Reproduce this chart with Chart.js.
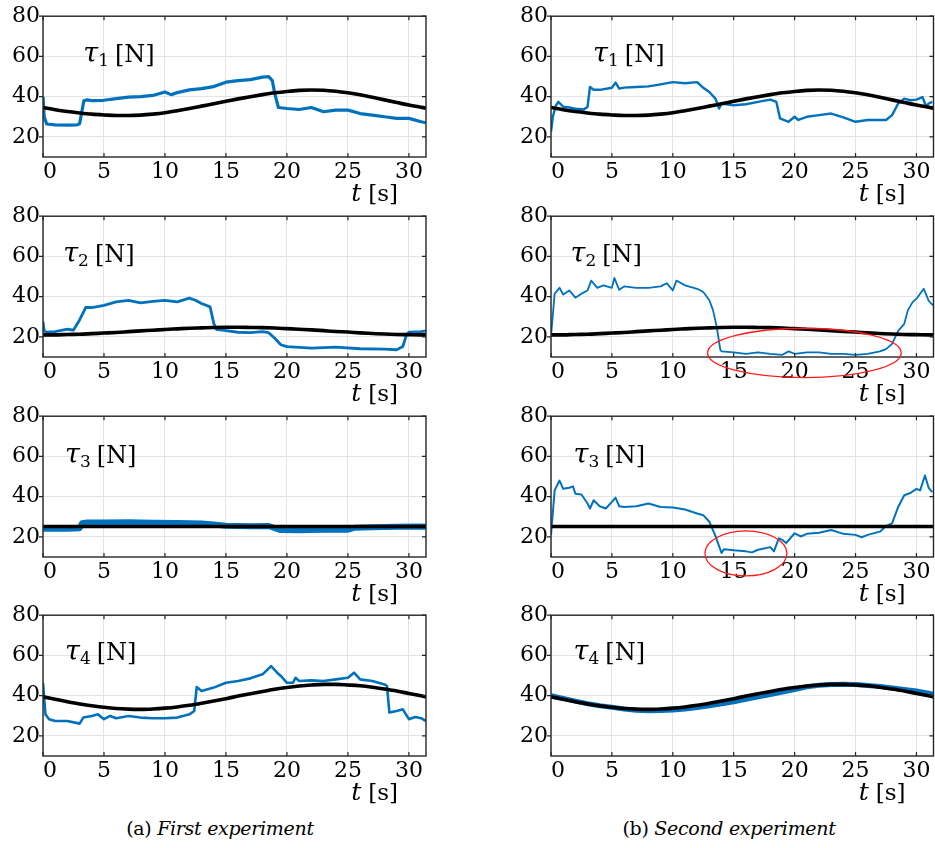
<!DOCTYPE html>
<html><head><meta charset="utf-8">
<script src="https://cdn.jsdelivr.net/npm/chart.js@4.4.1/dist/chart.umd.min.js"></script>
<style>
html,body{margin:0;padding:0;background:#fff;}
#wrap{position:relative;width:935px;height:848px;overflow:hidden;background:#fff;}
#wrap canvas{position:absolute;}
.cap{position:absolute;top:817px;font-family:'DejaVu Serif',serif;font-size:19px;color:#000;white-space:nowrap;transform:translateX(-50%);letter-spacing:-0.3px;}
.cap i{font-style:italic;}
</style></head><body>
<div id="wrap">
<div class="cap" style="left:220px">(a) <i>First experiment</i></div>
<div class="cap" style="left:729px">(b) <i>Second experiment</i></div>
</div>
<script>
// ---------- data ----------
const xTicks = [0,5,10,15,20,25,30];
const yTicks = [20,40,60,80];

// reference trajectories (black)
const tRef = [0,1,2,3,4,5,6,7,8,9,10,11,12,13,14,15,16,17,18,19,20,21,22,23,24,25,26,27,28,29,30,31,31.4];
const refTau1 = [34.6,33.5,32.6,31.9,31.3,30.9,30.6,30.6,30.8,31.3,32.0,33.0,34.1,35.3,36.5,37.7,38.9,40.0,41.0,41.9,42.6,43.1,43.3,43.2,42.7,41.9,40.9,39.7,38.4,37.1,35.8,34.7,34.3];
const refTau2 = [21.0,21.0,21.2,21.3,21.6,21.9,22.2,22.6,23.0,23.3,23.7,24.0,24.3,24.5,24.7,24.8,24.8,24.7,24.6,24.4,24.1,23.8,23.5,23.1,22.7,22.4,22.0,21.7,21.4,21.2,21.1,21.0,21.0];
const tRef3 = [0,31.4];
const refTau3 = [25.2,25.2];
const refTau4 = [39.4,38.2,37.0,35.9,35.0,34.2,33.6,33.3,33.2,33.4,33.8,34.4,35.2,36.2,37.3,38.5,39.8,41.0,42.1,43.2,44.1,44.8,45.3,45.6,45.6,45.3,44.9,44.2,43.3,42.3,41.1,39.9,39.4];

// measured tensions, first experiment (a)
const tA1 = [0,0.1,0.3,1,2,2.8,3.0,3.35,3.6,4,5,6,7,8,9,10,10.5,11,12,13,14,15,16,17,18,18.5,18.8,19.0,19.3,20,21,22,23,24,25,26,27,28,29,30,31,31.4];
const vA1 = [40,30,26.4,26,25.8,26,26.5,38,38.4,38,38.2,39,39.8,40,40.6,42.3,41,42,43.4,44,45,47.2,48,48.5,49.7,50,48,41.5,34.6,34.1,33.6,34.6,32.5,33.3,33.3,31.6,30.8,30,29.2,29.2,27.5,27];
const tA2 = [0,0.1,0.3,1,2,2.5,3,3.5,4,5,6,7,8,9,10,11,12,12.5,13,13.7,14,14.2,15,16,17,18,18.5,19,19.5,20,22,24,26,28,29,29.5,29.8,30,31,31.4];
const vA2 = [27.5,23,22.3,22.6,23.8,23.4,28.4,34.6,34.6,35.7,37.4,38.2,36.9,37.7,38.2,37.4,39.3,38.2,36.6,34.9,26.7,23.8,23.1,22.3,22.1,22.6,22.1,19.3,16.1,15.2,14.4,14.9,14.1,13.9,13.6,15.2,21,22.3,22.6,23];
const tA3 = [0,1,2,3,3.2,3.5,5,7,9,11,13,14,15,17,18.5,19,19.5,21,23,25,25.5,27,29,31,31.4];
const vA3 = [24,24.2,24.1,24.3,26.8,27.1,27.2,27.3,27.0,26.9,26.6,26.2,25.5,25.3,25.4,24.4,23.4,23.3,23.5,23.6,24.5,24.8,25,25.2,25];
const tA4 = [0,0.2,0.5,1,2,3,3.3,4,4.5,5,5.5,6,7,8,9,10,11,12,12.4,12.6,13,14,15,16,17,18,18.7,19.2,19.5,20,20.5,20.7,21,22,23,24,25,25.5,26,27,28,28.2,28.4,29,29.5,30,30.5,31,31.4];
const vA4 = [46.4,30.7,28.3,27.4,27.4,26.1,29.1,29.9,30.7,28.3,29.9,28.8,29.9,29.1,28.8,28.8,29.1,30.7,32.4,44.3,42.3,44,46.4,47.3,48.6,50.6,54.7,51.4,49.8,46.4,46.4,48.9,47.3,47.6,47.3,48.1,48.9,51.4,48.1,47.3,45.6,44.8,31.6,32.4,33.2,28.3,29.4,28.8,27.4];

// measured tensions, second experiment (b)
const tB1 = [0,0.15,0.4,0.6,1,1.5,2,2.7,3.0,3.2,3.5,4,5,5.3,5.6,6,7,8,9,10,11,12,12.5,13,13.5,13.8,14,15,16,17,18,18.5,18.8,19.5,20,20.3,21,22,23,24,25,26,27,27.5,28,28.5,29,29.5,30,30.5,30.8,31,31.3];
const vB1 = [22.5,30,35.5,37.4,35,34.6,34,33.6,35,44.8,43.4,43.4,44.4,47,44,44.5,44.8,45.1,46.1,47.2,46.7,47.2,44.4,42.3,39,34.1,36.6,35.7,36.2,37.4,38.5,37.4,29.2,27.5,30,28.4,30,30.8,31.6,29.7,27.5,28.4,28.4,28.4,30.8,36.6,39,38.2,38.5,39.8,35,36.6,37.4];
const tB2 = [0,0.3,0.7,1,1.5,2,2.5,3,3.3,3.8,4.3,5,5.2,5.6,6,7,8,9,9.5,10,10.3,11,12,12.5,13,13.3,13.6,13.9,14,15,16,17,18,19,19.5,20,21,22,23,24,25,26,27,27.5,28,28.5,29,29.3,29.7,30,30.6,31,31.2,31.4];
const vB2 = [20.2,41.5,44.4,41.1,43.1,39.5,41.5,43.1,48,44.4,45.6,44.4,49.3,43.4,45.1,44.4,44.4,45.1,46.7,43.1,48,45.6,43.9,42.3,38.2,33.3,25.1,13.6,12.8,12.3,11.6,12.3,11.6,11.1,12.8,11.6,12.3,12.3,11.6,11.6,11.1,11.6,12.8,13.9,16.5,23,26.5,33.3,37.4,39,43.9,38,36.6,35.7];
const tB3 = [0,0.3,0.7,1,1.5,1.8,2,2.5,3,3.2,3.5,4,4.5,5,5.3,5.6,6,7,8,9,10,11,12,12.5,13,13.5,14,14.2,15,16,16.5,17,18,18.3,18.7,19,19.3,20,20.5,21,22,23,24,25,25.5,26,27,27.5,28,28.5,29,29.5,30,30.3,30.7,31,31.3];
const vB3 = [21,43.1,48,43.9,44.4,45.1,41.5,41.1,36.6,34.1,38.2,35.2,34.1,37.4,39.5,35.2,34.9,35.2,36.6,34.9,34.6,33.6,31.6,30.8,27.5,20.5,12,13.9,13.3,12.8,12.3,13.6,14.9,12.8,19.3,18.5,16.9,21.8,20.2,21.5,22.1,23.4,21.5,21,19.8,21,22.6,25.4,26.7,34.9,40.7,41.8,43.9,43.1,50.5,44.4,42.3];
const tB4 = [0,1,2,3,4,5,6,7,8,9,10,11,12,13,14,15,16,17,18,19,20,21,22,23,24,25,26,27,28,29,30,31,31.4];
const vB4 = [40,38.6,37.3,36,35,34.2,33.4,32.8,32.5,32.6,32.9,33.4,34.1,35,36,37,38.2,39.4,40.6,41.8,43,44.4,45.2,45.6,45.7,45.5,45.1,44.5,43.8,43.1,42.3,41.2,40.6];

// highlighted regions (centre t, centre value, half-width s, half-height N)
const ellipseB2 = [20.8, 12, 7.95, 12.3];
const ellipseB3 = [16.0, 11.8, 3.36, 11.2];

// ---------- layout / style ----------
const cols = [
  {left:0,   width:440, yW:43, padR:14},
  {left:500, width:435, yW:51, padR:1.5}
];
const rowTop = [0,200,400,599];
const panels = [
  {c:0,r:0,t:tA1,v:vA1,tr:tRef, ref:refTau1,sub:'1',lab:[3.3,57],  bw:3.2},
  {c:1,r:0,t:tB1,v:vB1,tr:tRef, ref:refTau1,sub:'1',lab:[3.45,57], bw:2.4},
  {c:0,r:1,t:tA2,v:vA2,tr:tRef, ref:refTau2,sub:'2',lab:[1.65,57], bw:2.8},
  {c:1,r:1,t:tB2,v:vB2,tr:tRef, ref:refTau2,sub:'2',lab:[1.6,57],  bw:1.8, ell:ellipseB2},
  {c:0,r:2,t:tA3,v:vA3,tr:tRef3,ref:refTau3,sub:'3',lab:[1.8,56.5],bw:6},
  {c:1,r:2,t:tB3,v:vB3,tr:tRef3,ref:refTau3,sub:'3',lab:[1.85,56.5],bw:2.0, ell:ellipseB3},
  {c:0,r:3,t:tA4,v:vA4,tr:tRef, ref:refTau4,sub:'4',lab:[1.8,57.5],bw:2.6},
  {c:1,r:3,t:tB4,v:vB4,tr:tRef, ref:refTau4,sub:'4',lab:[1.85,57.5],bw:5}
];
const SERIF = '"DejaVu Serif", serif';
const INK = '#000';

const deco = {
  id:'deco',
  afterDatasetsDraw(chart){
    const o = chart.options.plugins.deco;
    const {ctx, chartArea:a} = chart;
    const x = chart.scales.x, y = chart.scales.y;
    ctx.save();
    // frame
    ctx.strokeStyle = '#262626'; ctx.lineWidth = 1.4;
    ctx.strokeRect(a.left, a.top, a.right - a.left, a.bottom - a.top);
    // tick marks
    ctx.lineWidth = 1.2; ctx.beginPath();
    yTicks.forEach(v => { const py = y.getPixelForValue(v);
      ctx.moveTo(a.left - 4, py); ctx.lineTo(a.left, py);
      ctx.moveTo(a.right - 4, py); ctx.lineTo(a.right, py); });
    xTicks.forEach(v => { const px = x.getPixelForValue(v);
      ctx.moveTo(px, a.bottom); ctx.lineTo(px, a.bottom - 4);
      ctx.moveTo(px, a.top); ctx.lineTo(px, a.top + 4); });
    ctx.stroke();
    // ellipse
    if (o.ell) {
      const [ct, cv, rt, rv] = o.ell;
      const cx = x.getPixelForValue(ct), cy = y.getPixelForValue(cv);
      const rx = x.getPixelForValue(ct + rt) - cx, ry = cy - y.getPixelForValue(cv + rv);
      ctx.beginPath(); ctx.ellipse(cx, cy, rx, ry, 0, 0, Math.PI * 2);
      ctx.strokeStyle = '#ff1a1a'; ctx.lineWidth = 1.3; ctx.stroke();
    }
    // tau label
    ctx.fillStyle = INK; ctx.textAlign = 'left'; ctx.textBaseline = 'alphabetic';
    let lx = x.getPixelForValue(o.lab[0]), ly = y.getPixelForValue(o.lab[1]);
    ctx.font = 'italic 27px ' + SERIF; ctx.fillText('τ', lx, ly);
    lx += ctx.measureText('τ').width;
    ctx.font = '17px ' + SERIF; ctx.fillText(o.sub, lx, ly + 4);
    lx += ctx.measureText(o.sub).width + 6;
    ctx.font = '24px ' + SERIF; ctx.fillText('[N]', lx, ly);
    // x label
    const ex = x.getPixelForValue(29.1), by = a.bottom + 44;
    ctx.font = '23px ' + SERIF; const ws = ctx.measureText('[s]').width;
    ctx.fillText('[s]', ex - ws, by);
    ctx.font = 'italic 25px ' + SERIF; const wt = ctx.measureText('t').width;
    ctx.fillText('t', ex - ws - 7 - wt, by);
    ctx.restore();
  }
};

const wrap = document.getElementById('wrap');
panels.forEach(p => {
  const G = cols[p.c];
  const cv = document.createElement('canvas');
  cv.width = G.width; cv.height = 215;
  cv.style.left = G.left + 'px'; cv.style.top = rowTop[p.r] + 'px';
  wrap.appendChild(cv);
  const font = {family: SERIF, size: 22};
  new Chart(cv, {
    type: 'line',
    data: { datasets: [
      { data: p.tr.map((t, i) => ({x: t, y: p.ref[i]})), borderColor: '#000', borderWidth: 3.6,
        pointRadius: 0, tension: 0.4, cubicInterpolationMode: 'monotone' },
      { data: p.t.map((t, i) => ({x: t, y: p.v[i]})), borderColor: '#0072BD', borderWidth: p.bw,
        pointRadius: 0, tension: 0, borderJoinStyle: 'round' }
    ]},
    options: {
      responsive: false, animation: false, events: [],
      layout: { padding: { top: 15, right: G.padR, bottom: 0, left: 0 } },
      plugins: { legend: {display: false}, tooltip: {enabled: false},
                 deco: { ell: p.ell, lab: p.lab, sub: p.sub } },
      scales: {
        x: { type: 'linear', min: 0, max: 31.4,
             afterBuildTicks: s => { s.ticks = xTicks.map(v => ({value: v})); },
             afterFit: s => { s.height = 58; },
             ticks: { font, color: INK, padding: 2, maxRotation: 0, autoSkip: false,
                      callback: v => v === 0 ? '\u00a0\u00a00' : String(v) },
             grid: { color: '#e4e4e4', lineWidth: 1, drawTicks: false },
             border: { display: false } },
        y: { type: 'linear', min: 10, max: 80,
             afterBuildTicks: s => { s.ticks = yTicks.map(v => ({value: v})); },
             afterFit: s => { s.width = G.yW; },
             ticks: { font, color: INK, padding: 3 },
             grid: { color: '#e4e4e4', lineWidth: 1, drawTicks: false },
             border: { display: false } }
      }
    },
    plugins: [deco]
  });
});
</script>
</body></html>
